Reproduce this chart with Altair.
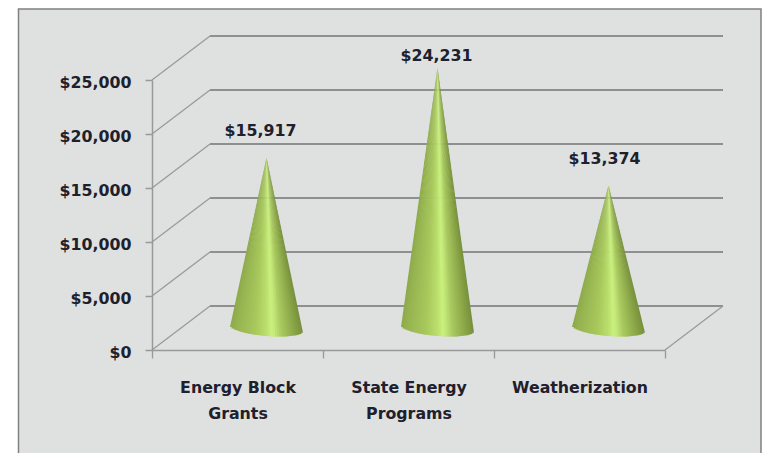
import math
import altair as alt
import pandas as pd

categories = ["Energy Block Grants", "State Energy Programs", "Weatherization"]
values = [15917, 24231, 13374]
value_labels = ["$15,917", "$24,231", "$13,374"]
y_ticks = [0, 5000, 10000, 15000, 20000, 25000]

# geometry of the plot box
PX_X = 171.0            # pixels per category
PX_Y = 270.0 / 25000.0  # pixels per dollar
DEPTH_X = 58 / PX_X     # depth of the 3-D floor in x units
DEPTH_Y = 44 / PX_Y     # depth of the 3-D floor in dollars
LEFT, TOP = 152, 80
FONT = "DejaVu Sans"
FSIZE = 15.8
WEIGHT = "bold"
INK = "#20202c"
Q = alt.Scale(domain=[0, 3], nice=False, zero=False)
V = alt.Scale(domain=[0, 25000], nice=False, zero=False)
Y_AXIS = alt.Axis(
    values=y_ticks, title=None, format="$,.0f", grid=False, zindex=1,
    labelFont=FONT, labelFontSize=FSIZE, labelFontWeight=WEIGHT, labelColor=INK,
    labelPadding=14, labelOffset=2, tickSize=7, tickColor="#999999", tickWidth=1.5,
    domainColor="#999999", domainWidth=1.5)
Y = lambda f: alt.Y(f, scale=V, axis=Y_AXIS)


def ux(px):
    return (px - LEFT) / PX_X


def vy(py):
    return (TOP + 270 - py) / PX_Y


# panel
panel = alt.Chart(pd.DataFrame([{
    "x": ux(18.5), "x2": ux(761), "y": vy(9), "y2": vy(470)
}])).mark_rect(fill="#dfe0e0", stroke="#808080", strokeWidth=1.5).encode(
    x=alt.X("x:Q", scale=Q, axis=None),
    x2="x2:Q",
    y=Y("y:Q"),
    y2="y2:Q",
)

# back wall gridlines
back = pd.DataFrame([
    {"x": DEPTH_X, "x2": 3 + DEPTH_X, "y": t + DEPTH_Y} for t in y_ticks
])
back_lines = alt.Chart(back).mark_rule(stroke="#8f8f8f", strokeWidth=1.8).encode(
    x=alt.X("x:Q", scale=Q, axis=None), x2="x2:Q",
    y=Y("y:Q"),
)

# side wall and floor diagonals
diag_rows = []
for t in y_ticks:
    diag_rows += [
        {"id": f"s{t}", "x": 0, "y": t, "o": 0},
        {"id": f"s{t}", "x": DEPTH_X, "y": t + DEPTH_Y, "o": 1},
    ]
diag_rows += [
    {"id": "floor", "x": 3, "y": 0, "o": 0},
    {"id": "floor", "x": 3 + DEPTH_X, "y": DEPTH_Y, "o": 1},
]
diag = alt.Chart(pd.DataFrame(diag_rows)).mark_line(stroke="#9a9a9a", strokeWidth=1.3).encode(
    x=alt.X("x:Q", scale=Q, axis=None),
    y=Y("y:Q"),
    detail="id:N",
    order="o:Q",
)

# band-scaled carrier of the category axis
axis_layer = alt.Chart(pd.DataFrame({"cat": categories})).mark_point(opacity=0).encode(
    x=alt.X("cat:N", sort=categories,
            scale=alt.Scale(paddingInner=0, paddingOuter=0),
            axis=alt.Axis(
                title=None, labelAngle=0, tickBand="extent", grid=False, zindex=1,
                labelExpr="indexof(datum.label,' ')>0 ? [substring(datum.label,0,lastindexof(datum.label,' ')), substring(datum.label,lastindexof(datum.label,' ')+1)] : datum.label",
                labelFont=FONT, labelFontSize=FSIZE, labelFontWeight=WEIGHT, labelColor=INK,
                labelLineHeight=26, labelPadding=22, labelLimit=200,
                tickSize=8, tickColor="#999999", tickWidth=1.3,
                domainColor="#999999", domainWidth=1.5)),
    y=alt.value(0),
)

# cone shading, left to right
STOPS = [(0.0, (0x8c, 0xaa, 0x4a)), (0.12, (0x98, 0xb6, 0x52)), (0.35, (0xa8, 0xc8, 0x5c)),
         (0.5, (0xba, 0xde, 0x6c)), (0.58, (0xca, 0xf0, 0x7e)), (0.7, (0xa9, 0xc9, 0x60)),
         (0.88, (0x8a, 0xa6, 0x47)), (1.0, (0x76, 0x8e, 0x3c))]


def shade(t):
    for (a, ca), (b, cb) in zip(STOPS, STOPS[1:]):
        if t <= b:
            f = (t - a) / (b - a)
            return "#%02x%02x%02x" % tuple(round(p + (q - p) * f) for p, q in zip(ca, cb))
    return "#768e3c"


HALF_W = 36.5 / PX_X
ELL_B = 8.0 / PX_Y
ELL_TILT = 3.0 / PX_Y
N = 36
rows = []
for i, val in enumerate(values):
    cx = i + 0.5 + DEPTH_X / 2
    base = DEPTH_Y / 2
    apex = val + base - 150
    # outer wedges first, so that the bright middle is painted last
    order = sorted(range(N), key=lambda k: -abs(-1 + 2 * (k + 0.5) / N - 0.16))
    for rank, k in enumerate(order):
        step = 2 / N
        tm = -1 + (k + 0.5) * step
        t0 = max(-1, tm - step * 0.8)
        t1 = min(1, tm + step * 0.8)
        yb = base - ELL_TILT * tm - ELL_B * math.sqrt(max(0, 1 - tm * tm))
        col = shade((tm + 1) / 2)
        wid = f"{i}-{rank:02d}"
        rows.append({"w": wid, "x": cx, "x2": cx, "y": apex, "c": col})
        rows.append({"w": wid, "x": cx + HALF_W * t0, "x2": cx + HALF_W * t1, "y": yb, "c": col})
cones = alt.Chart(pd.DataFrame(rows)).mark_area(orient="horizontal").encode(
    y=Y("y:Q"),
    x=alt.X("x:Q", scale=Q, axis=None, stack=None),
    x2="x2:Q",
    fill=alt.Fill("c:N", scale=None),
    detail="w:N",
)

# value labels
label_lift = [25, 10, 25]
label_shift = [-6, -1, -4]
labels = alt.Chart(pd.DataFrame({
    "x": [i + 0.5 + DEPTH_X / 2 + label_shift[i] / PX_X for i in range(3)],
    "y": [values[i] + DEPTH_Y / 2 + label_lift[i] / PX_Y for i in range(3)],
    "t": value_labels,
})).mark_text(font=FONT, fontSize=FSIZE, fontWeight=WEIGHT, color=INK, baseline="middle").encode(
    x=alt.X("x:Q", scale=Q, axis=None),
    y=Y("y:Q"),
    text="t:N",
)

chart = alt.layer(panel, back_lines, diag, axis_layer, cones, labels).resolve_scale(
    x="independent"
).properties(
    width=513, height=270,
    padding={"left": 144, "top": 72, "right": 97, "bottom": 103},
    autosize=alt.AutoSizeParams(type="none"),
).configure_view(stroke=None)

chart.save("out.html", embed_options={"renderer": "svg", "actions": False})
